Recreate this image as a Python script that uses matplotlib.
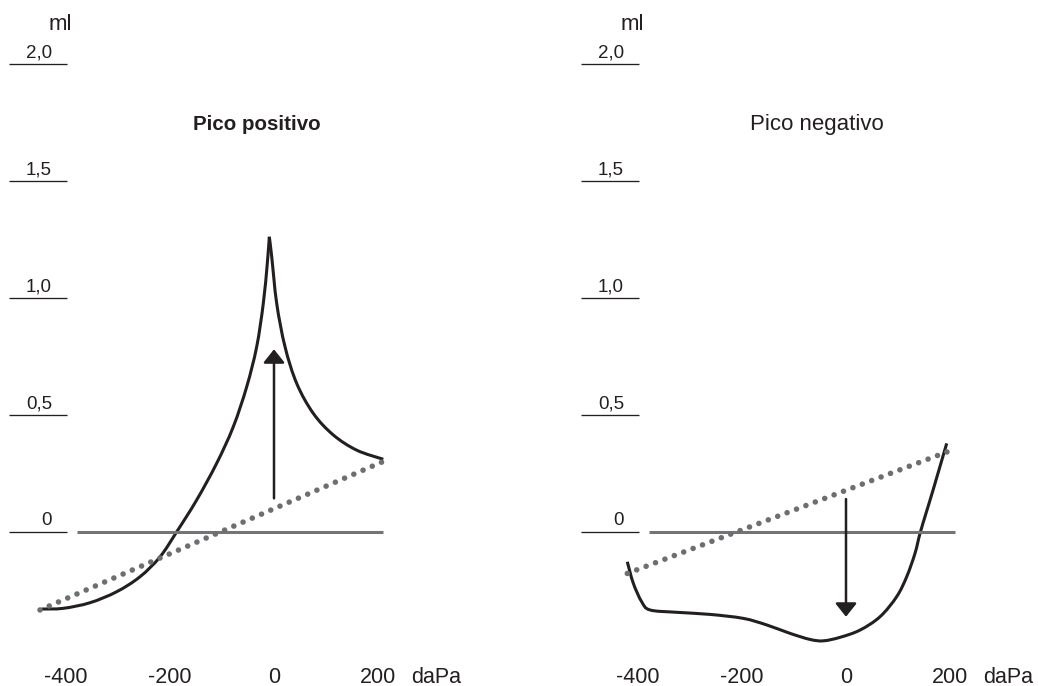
"""Tympanometry sketch: positive and negative peak compliance curves."""

import matplotlib
matplotlib.use("Agg")
import matplotlib.pyplot as plt
import numpy as np
from matplotlib.patches import PathPatch
from matplotlib.path import Path

plt.rcParams.update({"font.family": ["Liberation Sans", "DejaVu Sans"]})

INK = "#231f20"
GRAY = "#6d6e71"

# y scale levels (ml) and x ticks (daPa)
Y_LEVELS = [0.0, 0.5, 1.0, 1.5, 2.0]
Y_LABELS = ["0", "0,5", "1,0", "1,5", "2,0"]
X_TICKS = [-400, -200, 0, 200]

# Pico positivo: rising branch up to the peak, then falling branch
POS_UP_P = [-446.7, -405.2, -353.8, -302.5, -257.7, -219.2, -187.1, -148.7,
            -110.2, -78.3, -52.5, -33.3, -20.6, -12.9, -9.0]
POS_UP_V = [-0.329, -0.326, -0.302, -0.255, -0.191, -0.106, 0.001, 0.137,
            0.294, 0.450, 0.621, 0.792, 0.977, 1.148, 1.262]
POS_DOWN_P = [-9.0, -4.4, 5.2, 21.2, 43.7, 75.6, 114.0, 159.0, 210.2]
POS_DOWN_V = [1.262, 1.177, 0.977, 0.792, 0.635, 0.507, 0.415, 0.350, 0.311]
POS_BASE_P = [-450, 213.5]
POS_BASE_V = [-0.333, 0.305]
POS_ARROW = (0, 0.144, 0.781)

# Pico negativo
NEG_P = [-420.6, -409.0, -392.9, -376.9, -325.6, -261.5, -197.5, -152.5, -107.7,
         -69.2, -43.7, -11.5, 26.9, 65.4, 97.5, 116.7, 132.7, 142.3, 155.2,
         167.9, 193.7]
NEG_V = [-0.127, -0.219, -0.298, -0.333, -0.343, -0.352, -0.369, -0.397, -0.433,
         -0.459, -0.465, -0.450, -0.419, -0.362, -0.276, -0.191, -0.091, -0.006,
         0.090, 0.183, 0.379]
NEG_BASE_P = [-420.6, 194.8]
NEG_BASE_V = [-0.177, 0.343]
NEG_ARROW = (0, 0.141, -0.362)


def smooth_path(xs, ys):
    """Catmull-Rom through the read points, as cubic Bezier segments."""
    pts = np.column_stack([xs, ys]).astype(float)
    n = len(pts)
    verts = [pts[0]]
    codes = [Path.MOVETO]
    for i in range(n - 1):
        p0 = pts[max(i - 1, 0)]
        p1, p2 = pts[i], pts[i + 1]
        p3 = pts[min(i + 2, n - 1)]
        verts += [p1 + (p2 - p0) / 6, p2 - (p3 - p1) / 6, p2]
        codes += [Path.CURVE4] * 3
    return Path(verts, codes)


def draw_curve(ax, xs, ys):
    ax.add_patch(PathPatch(smooth_path(xs, ys), facecolor="none", edgecolor=INK,
                           lw=2.2, capstyle="butt", joinstyle="miter"))


def draw_panel(ax, title, title_x, weight, title_size, curves, base_p, base_v, arrow):
    ax.axis("off")
    ax.set_ylim(-0.658, 2.274)

    # scale marks with labels above them
    for level, label in zip(Y_LEVELS, Y_LABELS):
        ax.plot([-510, -398], [level, level], color=INK, lw=0.95,
                solid_capstyle="butt", clip_on=False)
        ax.text(-427, level + 0.03, label, ha="right", va="baseline",
                fontsize=13.5, color=INK)
    ax.text(-410, 2.145, "ml", ha="center", va="baseline", fontsize=16, color=INK)

    # zero reference line
    ax.plot([-378, 209], [0, 0], color="#737476", lw=2.2, solid_capstyle="butt")

    # dotted baseline
    ax.plot(base_p, base_v, color=GRAY, lw=4.0, linestyle=(0, (0.01, 1.8)),
            dash_capstyle="round")

    for xs, ys in curves:
        draw_curve(ax, xs, ys)

    x, y0, y1 = arrow
    ax.annotate("", xy=(x, y1), xytext=(x, y0),
                arrowprops=dict(arrowstyle="-|>,head_length=0.45,head_width=0.36",
                                mutation_scale=18, color=INK, lw=1.8,
                                shrinkA=0, shrinkB=0))

    for t in X_TICKS:
        ax.text(t, -0.62, str(t), ha="center", va="center", fontsize=15.5, color=INK)
    ax.text(312, -0.62, "daPa", ha="center", va="center", fontsize=15.5, color=INK)

    ax.text(title_x, 1.718, title, ha="center", va="baseline", fontsize=title_size,
            fontweight=weight, color=INK)


fig = plt.figure(figsize=(10.38, 6.86), dpi=100)
ax_l = fig.add_axes([0, 0, 519 / 1038, 1])
ax_r = fig.add_axes([519 / 1038, 0, 519 / 1038, 1])
ax_l.set_xlim((0 - 274) / 0.52, (519 - 274) / 0.52)
ax_r.set_xlim((519 - 846) / 0.52, (1038 - 846) / 0.52)

draw_panel(ax_l, "Pico positivo", -32.7, "bold", 14.8,
           [(POS_UP_P, POS_UP_V), (POS_DOWN_P, POS_DOWN_V)],
           POS_BASE_P, POS_BASE_V, POS_ARROW)
draw_panel(ax_r, "Pico negativo", -55.8, "normal", 16,
           [(NEG_P, NEG_V)], NEG_BASE_P, NEG_BASE_V, NEG_ARROW)

fig.savefig("out.png", dpi=100)
